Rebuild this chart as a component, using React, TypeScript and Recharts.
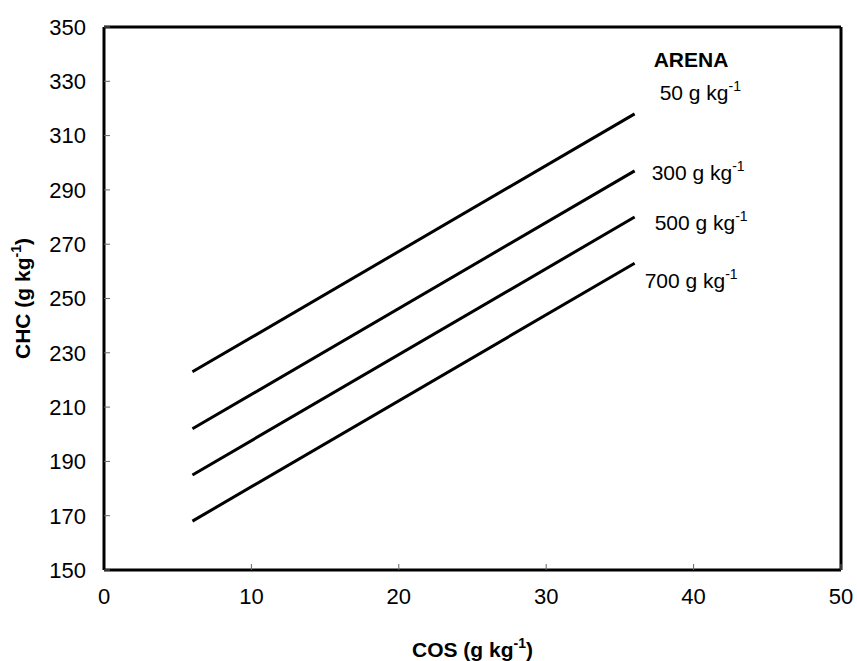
import React from 'react';
import { LineChart, Line, XAxis, YAxis, ReferenceLine, LabelList, Label } from 'recharts';

// COS (g kg-1) at the two ends of each fitted line
const COS = [6, 36];
// CHC (g kg-1) for each sand (ARENA) content
const CHC_ARENA_50 = [223, 318];
const CHC_ARENA_300 = [202, 297];
const CHC_ARENA_500 = [185, 280];
const CHC_ARENA_700 = [168, 263];

const X_TICKS = [0, 10, 20, 30, 40, 50];
const Y_TICKS = [150, 170, 190, 210, 230, 250, 270, 290, 310, 330, 350];

const SERIES = [
  { key: 'a50', arena: '50', values: CHC_ARENA_50 },
  { key: 'a300', arena: '300', values: CHC_ARENA_300 },
  { key: 'a500', arena: '500', values: CHC_ARENA_500 },
  { key: 'a700', arena: '700', values: CHC_ARENA_700 },
];

// where each line's label sits relative to the line's right end
const LABEL_OFFSETS: Record<string, [number, number]> = {
  a50: [25, -14],
  a300: [17, 9],
  a500: [20, 13],
  a700: [10, 25],
};

const FONT = '"Liberation Sans", Arial, sans-serif';

const data = COS.map((cos, i) => {
  const row: Record<string, number> = { cos };
  SERIES.forEach((s) => {
    row[s.key] = s.values[i];
  });
  return row;
});

const lineLabel = (key: string, arena: string, last: number, withTitle: boolean) => (props: any) => {
  const { x, y, value } = props;
  if (value !== last || x == null) return null;
  const [dx, dy] = LABEL_OFFSETS[key];
  return (
    <g>
      {withTitle && (
        <text x={x + 19} y={y - 47} fontFamily={FONT} fontSize={21} fontWeight="bold" fill="#000">
          ARENA
        </text>
      )}
      <text x={x + dx} y={y + dy} fontFamily={FONT} fontSize={21} fill="#000">
        {arena} g kg<tspan dy={-9} fontSize={14}>-1</tspan>
      </text>
    </g>
  );
};

const XTitle = (props: any) => {
  const { x, width } = props.viewBox;
  return (
    <text x={x + width / 2} y={657} textAnchor="middle" fontFamily={FONT} fontSize={21} fontWeight="bold" fill="#000">
      COS (g kg<tspan dy={-9} fontSize={14}>-1</tspan><tspan dy={9}>)</tspan>
    </text>
  );
};

const YTitle = (props: any) => {
  const { y, height } = props.viewBox;
  const cy = y + height / 2;
  return (
    <text
      x={30}
      y={cy}
      transform={`rotate(-90 30 ${cy})`}
      textAnchor="middle"
      fontFamily={FONT}
      fontSize={21}
      fontWeight="bold"
      fill="#000"
    >
      CHC (g kg<tspan dy={-9} fontSize={14}>-1</tspan><tspan dy={9}>)</tspan>
    </text>
  );
};

export default function App() {
  const tickStyle = { fontSize: 22, fill: '#000', fontFamily: FONT };
  return (
    <div style={{ position: 'absolute', left: 0, top: 0, background: '#fff' }}>
      <LineChart width={857} height={661} data={data} margin={{ top: 27, right: 16, left: 0, bottom: 0 }}>
        <XAxis
          type="number"
          dataKey="cos"
          domain={[0, 50]}
          ticks={X_TICKS}
          height={91}
          tickSize={-6}
          tickMargin={24}
          tick={tickStyle}
          axisLine={{ stroke: '#000', strokeWidth: 3 }}
          tickLine={{ stroke: '#666', strokeWidth: 1 }}
        >
          <Label content={XTitle} />
        </XAxis>
        <YAxis
          type="number"
          domain={[150, 350]}
          ticks={Y_TICKS}
          width={104}
          tickSize={-6}
          tickMargin={24}
          tick={tickStyle}
          axisLine={{ stroke: '#000', strokeWidth: 3 }}
          tickLine={{ stroke: '#666', strokeWidth: 1 }}
        >
          <Label content={YTitle} />
        </YAxis>
        <ReferenceLine y={350} stroke="#000" strokeWidth={3} />
        <ReferenceLine x={50} stroke="#000" strokeWidth={3} />
        {SERIES.map((s, i) => (
          <Line
            key={s.key}
            type="linear"
            dataKey={s.key}
            stroke="#000"
            strokeWidth={3}
            dot={false}
            activeDot={false}
            isAnimationActive={false}
          >
            <LabelList
              dataKey={s.key}
              content={lineLabel(s.key, s.arena, s.values[s.values.length - 1], i === 0)}
            />
          </Line>
        ))}
      </LineChart>
    </div>
  );
}
